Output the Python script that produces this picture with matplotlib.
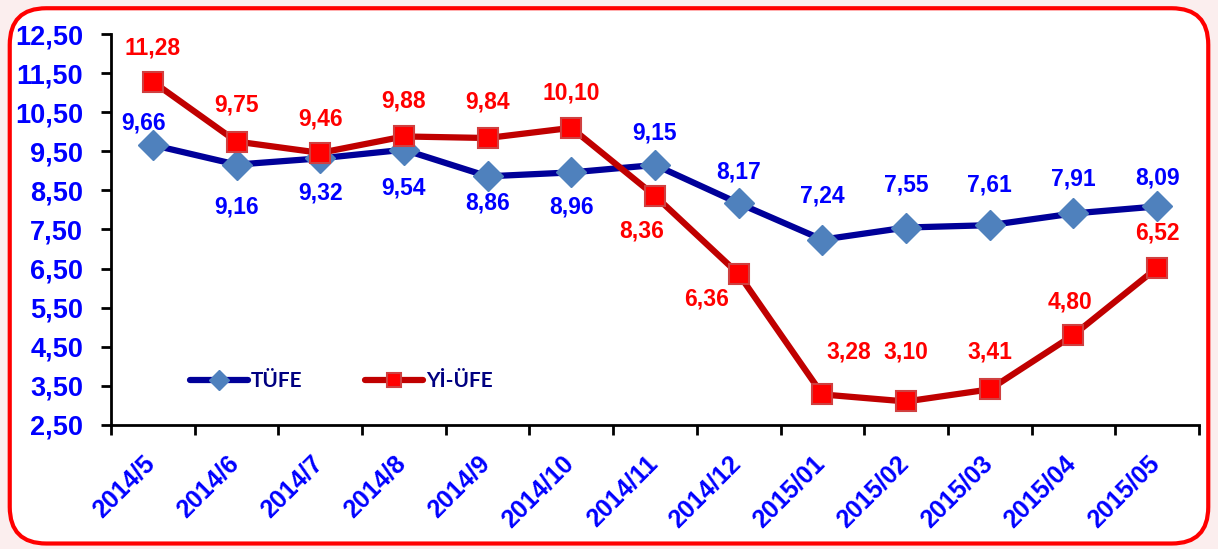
import matplotlib.pyplot as plt
from matplotlib.patches import FancyBboxPatch
from matplotlib.transforms import ScaledTranslation

# Veriler
months = ["2014/5", "2014/6", "2014/7", "2014/8", "2014/9", "2014/10", "2014/11",
          "2014/12", "2015/01", "2015/02", "2015/03", "2015/04", "2015/05"]
tufe = [9.66, 9.16, 9.32, 9.54, 8.86, 8.96, 9.15, 8.17, 7.24, 7.55, 7.61, 7.91, 8.09]
yiufe = [11.28, 9.75, 9.46, 9.88, 9.84, 10.10, 8.36, 6.36, 3.28, 3.10, 3.41, 4.80, 6.52]
yticks = [2.5 + i for i in range(11)]

# etiket kaymaları (piksel): yukarı +, aşağı -
tufe_dy = [22, -42, -35, -38, -27, -35, 32, 31, 44, 43, 40, 34, 28]
tufe_dx = [-9, 0, 0, 0, 0, 0, 0, 0, 0, 0, 0, 0, 0]
yiufe_dy = [34, 37, 34, 35, 36, 35, -35, -25, 42, 49, 37, 33, 35]
yiufe_dx = [0, 0, 0, 0, 0, 0, -13, -32, 26, 0, 0, -3, 0]

plt.rcParams['font.family'] = ['Liberation Sans', 'DejaVu Sans']

fig = plt.figure(figsize=(12.18, 5.49), dpi=100)
fig.patch.set_facecolor('#fbeeee')

# kırmızı yuvarlak çerçeve
frame = FancyBboxPatch((0.008, 0.01), 0.984, 0.975, boxstyle="round,pad=0,rounding_size=0.03",
                       transform=fig.transFigure, facecolor='white', edgecolor='#ff0000',
                       linewidth=3, mutation_aspect=12.18 / 5.49, zorder=-5)
fig.patches.append(frame)

ax = fig.add_axes([0.0911, 0.226, 0.8933, 0.712])
ax.set_zorder(5)
ax.set_facecolor('none')
x = list(range(len(months)))

ax.plot(x, tufe, color='#000099', lw=4.5, marker='D', ms=15, mfc='#4f81bd', mec='#4f81bd',
        label='TÜFE', zorder=3, solid_capstyle='round')
ax.plot(x, yiufe, color='#c00000', lw=4.5, marker='s', ms=14, mfc='#ff0000', mec='#d04040',
        mew=1.5, label='Yİ-ÜFE', zorder=4, solid_capstyle='round')

px = 0.72  # piksel -> punto
for i in x:
    ax.annotate(f"{tufe[i]:.2f}".replace('.', ','), (i, tufe[i]),
                xytext=(tufe_dx[i] * px, tufe_dy[i] * px),
                textcoords='offset points', ha='center', va='center', color='#0000ff',
                fontsize=16.5, fontweight='bold')
    ax.annotate(f"{yiufe[i]:.2f}".replace('.', ','), (i, yiufe[i]),
                xytext=(yiufe_dx[i] * px, yiufe_dy[i] * px),
                textcoords='offset points', ha='center', va='center', color='#ff0000',
                fontsize=16.5, fontweight='bold')

ax.set_xlim(-0.5, len(months) - 0.5)
ax.set_ylim(2.5, 12.5)
ax.set_yticks(yticks)
ax.set_yticklabels([f"{v:.2f}".replace('.', ',') for v in yticks], color='#0000ff',
                   fontsize=19.5, fontweight='bold')
ax.set_xticks([i - 0.5 for i in range(len(months) + 1)])
ax.set_xticklabels([])
ax.set_xticks(x, minor=True)
ax.set_xticklabels(months, minor=True, rotation=45, ha='right', va='top', rotation_mode='anchor',
                   color='#0000ff', fontweight='bold')
ax.tick_params(axis='x', which='minor', length=0, pad=19, labelsize=18)
ax.tick_params(axis='both', which='major', length=7, width=2, direction='out', color='black')
ax.tick_params(axis='y', pad=13)
for s in ['top', 'right']:
    ax.spines[s].set_visible(False)
for s in ['left', 'bottom']:
    ax.spines[s].set_linewidth(2)

# ay etiketlerini biraz sola kaydır
shift = ScaledTranslation(-10 / 100, 0, fig.dpi_scale_trans)
for lbl in ax.get_xticklabels(minor=True):
    lbl.set_transform(lbl.get_transform() + shift)

leg = ax.legend(loc='center left', bbox_to_anchor=(0.055, 0.112), ncol=2, frameon=False,
                handlelength=2.8, columnspacing=3.0, handletextpad=0.15, markerscale=0.7,
                prop={'family': 'Lato', 'weight': 'bold', 'size': 15})
for t in leg.get_texts():
    t.set_color('#000080')

fig.savefig('out.png', dpi=100, facecolor=fig.get_facecolor())
